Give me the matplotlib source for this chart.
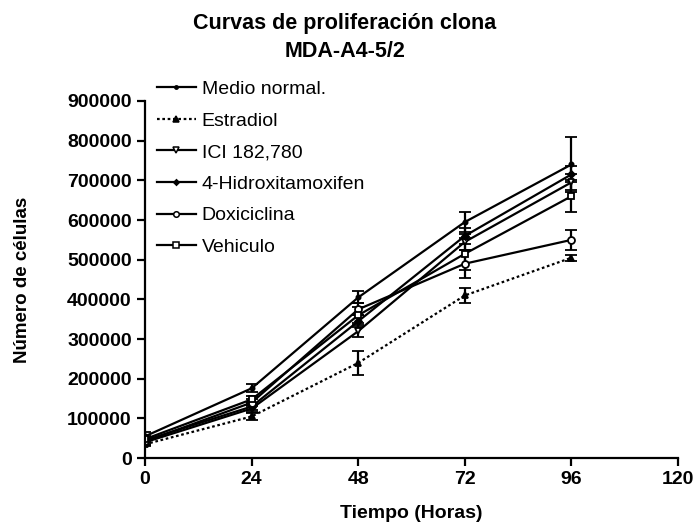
import matplotlib
matplotlib.use("Agg")
import matplotlib.pyplot as plt
from matplotlib.lines import Line2D

plt.rcParams['font.family'] = ['Liberation Sans', 'DejaVu Sans']

horas = [0, 24, 48, 72, 96]

medio = [55000, 176000, 405000, 595000, 740000]
medio_err = [10000, 10000, 15000, 25000, 70000]
estradiol = [35000, 105000, 240000, 410000, 505000]
estradiol_err = [5000, 8000, 30000, 20000, 8000]
ici = [40000, 125000, 320000, 545000, 695000]
ici_err = [6000, 8000, 15000, 20000, 20000]
oht = [45000, 130000, 345000, 560000, 715000]
oht_err = [6000, 8000, 15000, 20000, 20000]
doxi = [42000, 140000, 375000, 490000, 550000]
doxi_err = [8000, 8000, 15000, 35000, 25000]
vehiculo = [48000, 148000, 360000, 515000, 660000]
vehiculo_err = [8000, 8000, 20000, 40000, 40000]

yticks = [0, 100000, 200000, 300000, 400000, 500000, 600000, 700000, 800000, 900000]
xticks = [0, 24, 48, 72, 96, 120]

fig = plt.figure(figsize=(6.94, 5.26), dpi=100)
ax = fig.add_axes([0.209, 0.129, 0.768, 0.679])

series = [
    ('Medio normal.', medio, medio_err, dict(ls='-', marker='o', ms=3, mfc='k')),
    ('Estradiol', estradiol, estradiol_err, dict(ls=(0, (1.2, 1.2)), marker='^', ms=5, mfc='k')),
    ('ICI 182,780', ici, ici_err, dict(ls='-', marker='v', ms=5, mfc='white')),
    ('4-Hidroxitamoxifen', oht, oht_err, dict(ls='-', marker='D', ms=3.5, mfc='k')),
    ('Doxiciclina', doxi, doxi_err, dict(ls='-', marker='o', ms=5, mfc='white')),
    ('Vehiculo', vehiculo, vehiculo_err, dict(ls='-', marker='s', ms=5, mfc='white')),
]

handles = []
for name, y, e, st in series:
    ax.errorbar(horas, y, yerr=e, color='k', lw=1.6, capsize=4, capthick=1.6,
                elinewidth=1.6, mec='k', mew=1.3, **st)
    handles.append(Line2D([], [], color='k', lw=1.6, mec='k', mew=1.1,
                          label=name, **dict(st, ms=st['ms'] * 0.8)))

ax.set_xlim(0, 120)
ax.set_ylim(0, 900000)
ax.set_xticks(xticks)
ax.set_yticks(yticks)
ax.spines['top'].set_visible(False)
ax.spines['right'].set_visible(False)
ax.spines['left'].set_linewidth(1.6)
ax.spines['bottom'].set_linewidth(1.6)
ax.tick_params(direction='out', length=6, width=1.6, labelsize=14)
for t in ax.get_xticklabels() + ax.get_yticklabels():
    t.set_fontweight('bold')

ax.set_xlabel('Tiempo (Horas)', fontsize=14, fontweight='bold', labelpad=12)
ax.set_ylabel('Número de células', fontsize=13.5, fontweight='bold', labelpad=26)

fig.text(0.497, 0.955, 'Curvas de proliferación clona', ha='center', va='center',
         fontsize=15.5, fontweight='bold')
fig.text(0.497, 0.903, 'MDA-A4-5/2', ha='center', va='center',
         fontsize=15.5, fontweight='bold')

fig.legend(handles=handles, loc='upper left', bbox_to_anchor=(0.215, 0.862), frameon=False,
           fontsize=14, labelspacing=0.72, handlelength=2.0,
           handletextpad=0.3, borderaxespad=0)

fig.savefig('out.png', dpi=100)
